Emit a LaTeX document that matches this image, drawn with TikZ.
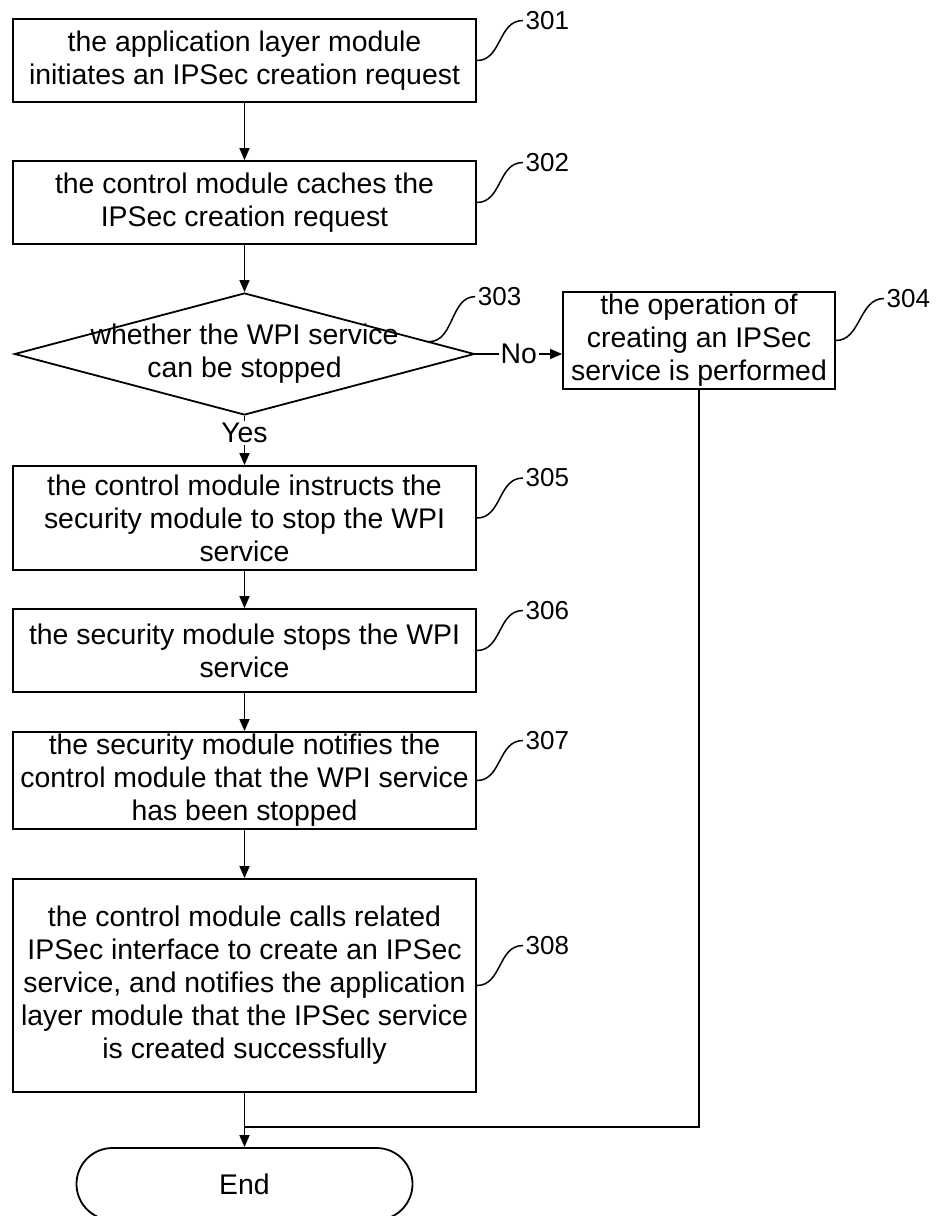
\documentclass[tikz,border=0pt]{standalone}
\usepackage{fontspec}
\setmainfont{Liberation Sans}
\usetikzlibrary{shapes.geometric,arrows.meta,calc}

\tikzset{
  proc/.style={draw,line width=0.9pt,align=center,inner sep=1pt,
    minimum width=231.5pt,minimum height=41.5pt,font=\fontsize{14.2}{16.5}\selectfont},
  decision/.style={draw,diamond,line width=0.9pt,inner sep=0pt,
    minimum width=230pt,minimum height=61pt},
  term/.style={draw,line width=0.9pt,rounded corners=18pt,
    minimum width=168pt,minimum height=36pt,font=\fontsize{14.2}{16.5}\selectfont},
  lbl/.style={fill=white,inner sep=1pt,font=\fontsize{14.2}{16.5}\selectfont},
  num/.style={right,inner sep=1pt,font=\fontsize{13}{15}\selectfont}
}

\begin{document}
\begin{tikzpicture}[x=0.5pt,y=-0.5pt,>={Triangle[length=6pt,width=5pt]},line width=0.75pt]
\useasboundingbox (0,0) rectangle (937,1216);
% steps
\node[proc] (s301) at (244.5,60.5) {the application layer module\\initiates an IPSec creation request};
\node[proc] (s302) at (244.5,202.5) {the control module caches the\\IPSec creation request};
\node[decision] (dec) at (244.5,354) {};
\node[align=center,font=\fontsize{14.2}{16.5}\selectfont] (dectext) at (dec) {whether the WPI service\\can be stopped};
\node[proc,minimum width=136pt,minimum height=48.5pt] (s304) at (699,340.5) {the operation of\\creating an IPSec\\service is performed};
\node[proc,minimum height=52pt] (s305) at (244.5,518) {the control module instructs the\\security module to stop the WPI\\service};
\node[proc] (s306) at (244.5,650.5) {the security module stops the WPI\\service};
\node[proc,minimum height=48.5pt] (s307) at (244.5,780.5) {the security module notifies the\\control module that the WPI service\\has been stopped};
\node[proc,minimum height=106.5pt] (s308) at (244.5,985.5) {the control module calls related\\IPSec interface to create an IPSec\\service, and notifies the application\\layer module that the IPSec service\\is created successfully};
\node[term] (stop) at (244.5,1184) {End};
\coordinate (join) at (244.5,1127);

% flow
\draw[->] (s301) -- (s302);
\draw[->] (s302) -- (dec);
\draw[->] (dec.east) -- node[lbl] (no) {No} (dec.east -| s304.west);
\draw[->] (dec.south) -- node[lbl,pos=0.35] (yes) {Yes} (s305.north);
\draw[->] (s305) -- (s306);
\draw[->] (s306) -- (s307);
\draw[->] (s307) -- (s308);
\draw[->] (s308) -- (stop);
\draw (s304.south) |- (join);

% reference numbers
\foreach \n in {301,302,305,306,307,308}
  \draw (s\n.east) .. controls +(25,0) and +(-25,0) .. ++(46,-40) node[num] (n\n) {\n};
\draw ($(dec.north)!0.8!(dec.east)$) .. controls +(25,0) and +(-25,0) .. ++(46,-45) node[num] (n303) {303};
\draw (s304.east) .. controls +(25,0) and +(-25,0) .. ++(48,-42) node[num] (n304) {304};
\end{tikzpicture}
\end{document}
